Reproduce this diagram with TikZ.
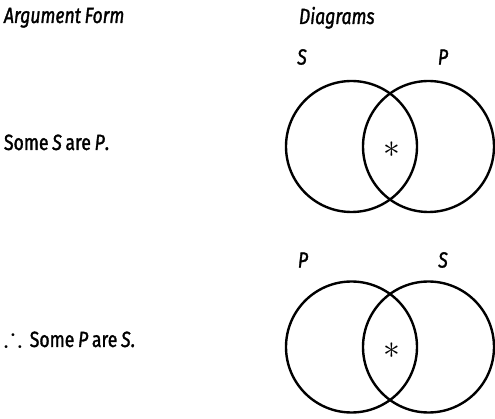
\documentclass[tikz,border=0pt]{standalone}
\usepackage{amssymb}
\usepackage{fontspec}
\setmainfont[FakeStretch=0.8,FakeBold=1.4,WordSpace=0.8]{Fira Sans}
\usetikzlibrary{positioning}

\begin{document}
\begin{tikzpicture}[x=1pt, y=-1pt,
  every node/.style={inner sep=0pt, outer sep=0pt},
  head/.style={font=\fontsize{22}{24}\selectfont\itshape, anchor=base west},
  form/.style={font=\fontsize{22}{24}\selectfont, anchor=base west},
  term/.style={font=\fontsize{22}{24}\selectfont\itshape},
  set/.style={circle, draw=black, line width=2.4pt, minimum size=131pt},
  starmark/.style={font=\fontsize{24}{24}\selectfont, scale=1.35},
]
\useasboundingbox (0,0) rectangle (495,419);
\node[head] (argform) at (4,23) {Argument Form};
\node[head] (diagrams) at (299,24) {Diagrams};
\node[form] (premise) at (4,150) {Some \textit{S} are \textit{P}.};
\node[form] (concl) at (4,347) {\scalebox{1.15}{\fontsize{24}{24}\selectfont$\therefore$}\, Some \textit{P} are \textit{S}.};
\node[set] (sTop) at (351.5,146.5) {};
\node[set] (pTop) at (428.5,146.5) {};
\node[term] (sTopLbl) at (302,57) {S};
\node[term] (pTopLbl) at (443,57) {P};
\node[starmark] (xTop) at (392,150) {$\ast$};
\node[set] (pBot) at (351.5,347) {};
\node[set] (sBot) at (428.5,347) {};
\node[term] (pBotLbl) at (303,260) {P};
\node[term] (sBotLbl) at (443,260) {S};
\node[starmark] (xBot) at (392,351) {$\ast$};
\end{tikzpicture}
\end{document}
